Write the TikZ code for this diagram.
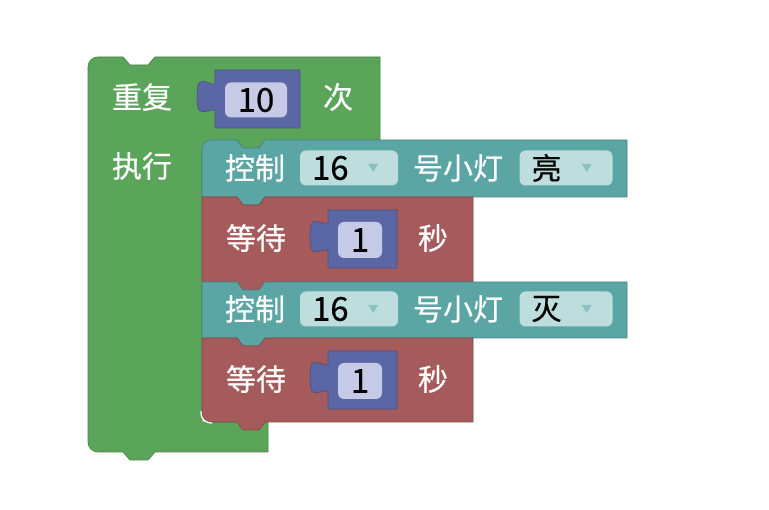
\documentclass[tikz,border=0pt]{standalone}
\usepackage{fontspec}
\setmainfont{Noto Sans CJK SC}[FakeBold=0.5]
\usepackage{xcolor}
\usepackage{tikz}
\usetikzlibrary{positioning,calc}

\definecolor{loopgreen}{HTML}{5BA55B}
\definecolor{lampteal}{HTML}{5BA5A5}
\definecolor{waitred}{HTML}{A55B5B}
\definecolor{numblue}{HTML}{5B67A5}
\definecolor{numfieldc}{HTML}{C6CAE6}
\definecolor{dropfieldc}{HTML}{BEDEDE}

\begin{document}
\begin{tikzpicture}[
    x=1pt, y=-1pt,
    font=\fontsize{30}{30}\selectfont,
    % --- block bodies ---
    body/.style={line width=0.7pt, line join=round},
    loopbody/.style={body, fill=loopgreen, draw=loopgreen!80!black},
    lampbody/.style={body, fill=lampteal, draw=lampteal!80!black},
    waitbody/.style={body, fill=waitred, draw=waitred!80!black},
    numbody/.style={body, fill=numblue, draw=numblue!80!black},
    % --- editable fields ---
    numfield/.style={fill=numfieldc, rounded corners=6pt, inner sep=0pt, text=black,
                     font=\fontsize{33}{33}\selectfont},
    dropfield/.style={fill=dropfieldc, rounded corners=6pt, minimum height=35pt,
                      inner sep=0pt},
    droptip/.style={fill=lampteal!70!white},
    % --- texts ---
    lbl/.style={text=white, inner sep=0pt},
    val/.style={text=black, inner sep=0pt},
  ]
  \useasboundingbox (0,0) rectangle (769,510);

  % ---- REPEAT: the green C-shaped loop ------------------------------------
  \filldraw[loopbody] (88,140) [rounded corners=10] -- (88,57) [sharp corners]
        -- (123,57) -- (130,65) -- (148,65) -- (155,57) -- (380,57) -- (380,140)
        -- (265,140) -- (259,148) -- (243,148) -- (237,140) -- (214,140)
        -- (214,150) -- (202,150) -- (202,422) -- (268,422) -- (268,452)
        -- (155,452) -- (148,460) -- (130,460) -- (123,452)
        [rounded corners=10] -- (88,452) [sharp corners] -- cycle;

  \node[lbl] (repeat) at (142,97) {重复};
  \node[lbl] (times) at (338,97) {次};
  \node[lbl] (do) at (142,166) {执行};

  % ---- STATEMENTS inside the loop -----------------------------------------
  \filldraw[lampbody] (202,197) [rounded corners=9] -- (202,140) [sharp corners]
        -- (237,140) -- (243,148) -- (259,148) -- (265,140) -- (627,140)
        -- (627,197) -- (265,197) -- (259,205) -- (243,205) -- (237,197) -- cycle;
  \filldraw[waitbody] (202,282) -- (202,197)
        -- (237,197) -- (243,205) -- (259,205) -- (265,197) -- (473,197)
        -- (473,282) -- (265,282) -- (259,290) -- (243,290) -- (237,282) -- cycle;
  \filldraw[lampbody] (202,338) -- (202,282)
        -- (237,282) -- (243,290) -- (259,290) -- (265,282) -- (627,282)
        -- (627,338) -- (265,338) -- (259,346) -- (243,346) -- (237,338) -- cycle;
  \filldraw[waitbody] (202,338)
        -- (237,338) -- (243,346) -- (259,346) -- (265,338) -- (473,338)
        -- (473,422) -- (265,422) -- (259,430) -- (243,430) -- (237,422)
        [rounded corners=9] -- (202,422) [sharp corners] -- cycle;
  % light seam round the last block's corner
  \draw[white, line width=1.2pt, rounded corners=10] (201,411) -- (201,423) -- (212,423);

  % ---- NUMBER blocks plugged into the inputs ------------------------------
  \foreach \l/\t/\r in {215/70/300, 328/210/397, 328/351/397} {
    \filldraw[numbody] (\l,\t) -- (\r,\t) -- (\r,{\t+58}) -- (\l,{\t+58})
          -- (\l,{\t+40}) .. controls ({\l-5},{\t+39}) and ({\l-8},{\t+43}) .. ({\l-15},{\t+41})
          .. controls ({\l-19},{\t+40}) and ({\l-19},{\t+13}) .. ({\l-15},{\t+12})
          .. controls ({\l-8},{\t+10}) and ({\l-5},{\t+15}) .. (\l,{\t+14}) -- cycle;
  }
  \node[numfield, minimum width=62pt, minimum height=35pt] (count) at (256,100) {10};

  % ---- first lamp / wait pair ---------------------------------------------
  \node[lbl] (ctrl1) at (255,168) {控制};
  \node[dropfield, minimum width=98pt] (pin1) at (349,168) {};
  \node[val, anchor=west, font=\fontsize{33}{33}\selectfont] (pinval1)
        at ([xshift=12pt]pin1.west) {16};
  \fill[droptip] ([xshift=-30pt,yshift=4pt]pin1.east) -- ++(10pt,0pt) -- ++(-5pt,-8pt) -- cycle;
  \node[lbl] (lamp1) at (458,168) {号小灯};
  \node[dropfield, minimum width=93pt] (state1) at (566,168) {};
  \node[val, anchor=west] (stateval1) at ([xshift=12pt]state1.west) {亮};
  \fill[droptip] ([xshift=-31pt,yshift=4pt]state1.east) -- ++(10pt,0pt) -- ++(-5pt,-8pt) -- cycle;

  \node[lbl] (wait1) at (256,238) {等待};
  \node[numfield, minimum width=44pt, minimum height=36pt] (sec1) at (360,240) {1};
  \node[lbl] (unit1) at (433,238) {秒};

  % ---- second lamp / wait pair --------------------------------------------
  \node[lbl] (ctrl2) at (255,309) {控制};
  \node[dropfield, minimum width=98pt] (pin2) at (349,309) {};
  \node[val, anchor=west, font=\fontsize{33}{33}\selectfont] (pinval2)
        at ([xshift=12pt]pin2.west) {16};
  \fill[droptip] ([xshift=-30pt,yshift=4pt]pin2.east) -- ++(10pt,0pt) -- ++(-5pt,-8pt) -- cycle;
  \node[lbl] (lamp2) at (458,309) {号小灯};
  \node[dropfield, minimum width=93pt] (state2) at (566,309) {};
  \node[val, anchor=west] (stateval2) at ([xshift=12pt]state2.west) {灭};
  \fill[droptip] ([xshift=-31pt,yshift=4pt]state2.east) -- ++(10pt,0pt) -- ++(-5pt,-8pt) -- cycle;

  \node[lbl] (wait2) at (256,379) {等待};
  \node[numfield, minimum width=44pt, minimum height=36pt] (sec2) at (360,381) {1};
  \node[lbl] (unit2) at (433,379) {秒};

\end{tikzpicture}
\end{document}
